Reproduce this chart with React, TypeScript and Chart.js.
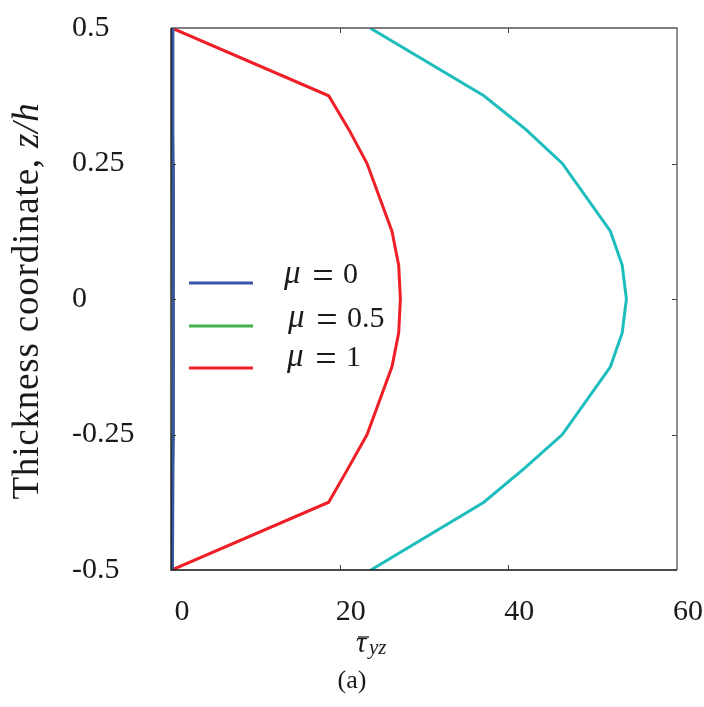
import React, { useEffect, useRef } from "react";
import { Chart, registerables } from "chart.js";

Chart.register(...registerables);

// Thickness coordinate z/h (vertical axis)
const zCoords = [0.5, 0.375, 0.3125, 0.25, 0.125, 0.0625, 0, -0.0625, -0.125, -0.25, -0.3125, -0.375, -0.5];
// Transverse shear stress values (horizontal axis)
const tauMu0 = [0.15, 0.2, 0.22, 0.25, 0.28, 0.3, 0.3, 0.3, 0.28, 0.25, 0.22, 0.2, 0.15];
const tauMu05 = [0.12, 0.18, 0.2, 0.22, 0.25, 0.27, 0.27, 0.27, 0.25, 0.22, 0.2, 0.18, 0.12];
const tauMu1 = [0.1, 18.7, 21.1, 23.25, 26.2, 27.0, 27.2, 27.0, 26.2, 23.25, 21.0, 18.7, 0.1];
const tauCyan = [23.6, 37.1, 42.1, 46.4, 52.1, 53.5, 54.0, 53.5, 52.1, 46.4, 41.9, 37.1, 23.7];

const muLabels = ["0", "0.5", "1"];
const xTickValues = [0, 20, 40, 60];
const yTickValues = [-0.5, -0.25, 0, 0.25, 0.5];

const FONT = "'Liberation Serif', 'Times New Roman', serif";
const BLUE = "#3a55a6";
const GREEN = "#41b24a";
const RED = "#ee1f26";
const CYAN = "#1ebdbd";

const toPts = (xs: number[]) => xs.map((x, i) => ({ x, y: zCoords[i] }));

const overlayPlugin = {
  id: "overlay",
  afterDraw(chart: any) {
    const ctx = chart.ctx;
    const { left, right, top, bottom } = chart.chartArea;
    const xs = chart.scales.x;
    const ys = chart.scales.y;
    ctx.save();

    // frame
    ctx.lineWidth = 1.3;
    ctx.strokeStyle = "#555";
    ctx.beginPath();
    ctx.moveTo(left, top);
    ctx.lineTo(right, top);
    ctx.lineTo(right, bottom);
    ctx.stroke();
    ctx.strokeStyle = "#111";
    ctx.beginPath();
    ctx.moveTo(left, top);
    ctx.lineTo(left, bottom);
    ctx.lineTo(right, bottom);
    ctx.stroke();

    // inward tick marks
    ctx.strokeStyle = "#444";
    ctx.lineWidth = 1;
    const tl = 5;
    xs.ticks.forEach((t: any) => {
      if (t.value === xs.min || t.value === xs.max) return;
      const px = Math.round(xs.getPixelForValue(t.value)) + 0.5;
      ctx.beginPath();
      ctx.moveTo(px, bottom);
      ctx.lineTo(px, bottom - tl);
      ctx.moveTo(px, top);
      ctx.lineTo(px, top + tl);
      ctx.stroke();
    });
    ys.ticks.forEach((t: any) => {
      if (t.value === ys.min || t.value === ys.max) return;
      const py = Math.round(ys.getPixelForValue(t.value)) + 0.5;
      ctx.beginPath();
      ctx.moveTo(left, py);
      ctx.lineTo(left + tl, py);
      ctx.moveTo(right, py);
      ctx.lineTo(right - tl, py);
      ctx.stroke();
    });

    // legend
    const legendLines = [283, 326, 368];
    const legendBase = [283, 327, 366];
    const muX = [284, 288, 287];
    let row = 0;
    chart.data.datasets.forEach((ds: any) => {
      if (!ds.label) return;
      const y = legendLines[row];
      const b = legendBase[row];
      const mx = muX[row];
      row++;
      ctx.strokeStyle = ds.borderColor;
      ctx.lineWidth = 3;
      ctx.beginPath();
      ctx.moveTo(189, y);
      ctx.lineTo(253, y);
      ctx.stroke();
      const parts = ds.label.split(" = ");
      ctx.fillStyle = "#1a1a1a";
      ctx.textBaseline = "alphabetic";
      ctx.textAlign = "left";
      ctx.font = "italic 33px " + FONT;
      ctx.fillText("\u03bc", mx, b);
      ctx.font = "38px " + FONT;
      ctx.textAlign = "center";
      ctx.fillText("=", mx + 39, b + 5);
      ctx.font = "30px " + FONT;
      ctx.textAlign = "left";
      ctx.fillText(parts[1], mx + 59, b);
    });

    // y-axis title
    ctx.save();
    ctx.translate(38, 301);
    ctx.rotate(-Math.PI / 2);
    ctx.fillStyle = "#1a1a1a";
    ctx.textBaseline = "alphabetic";
    ctx.textAlign = "left";
    try { (ctx as any).letterSpacing = "0.8px"; } catch (e) {}
    const normalPart = "Thickness coordinate, ";
    const italicPart = "z/h";
    ctx.font = "37px " + FONT;
    const w1 = ctx.measureText(normalPart).width;
    ctx.font = "italic 37px " + FONT;
    const w2 = ctx.measureText(italicPart).width;
    const start = -(w1 + w2) / 2;
    ctx.font = "37px " + FONT;
    ctx.fillText(normalPart, start, 0);
    ctx.font = "italic 37px " + FONT;
    ctx.fillText(italicPart, start + w1, 0);
    try { (ctx as any).letterSpacing = "0px"; } catch (e) {}
    ctx.restore();

    // x-axis title: tau-bar_yz
    ctx.fillStyle = "#1a1a1a";
    ctx.textAlign = "left";
    ctx.textBaseline = "alphabetic";
    ctx.font = "italic 29px " + FONT;
    ctx.fillText("\u03c4", 356, 652);
    ctx.strokeStyle = "#1a1a1a";
    ctx.lineWidth = 1.3;
    ctx.beginPath();
    ctx.moveTo(358, 637);
    ctx.lineTo(369, 637);
    ctx.stroke();
    ctx.font = "italic 21px " + FONT;
    ctx.fillText("yz", 369, 654);

    // caption
    ctx.font = "26px " + FONT;
    ctx.textAlign = "center";
    ctx.fillText("(a)", 352, 688);

    ctx.restore();
  },
};

export default function App() {
  const canvasRef = useRef<HTMLCanvasElement | null>(null);

  useEffect(() => {
    if (!canvasRef.current) return;
    const chart = new Chart(canvasRef.current, {
      type: "scatter",
      data: {
        datasets: [
          { label: "\u03bc = " + muLabels[0], data: toPts(tauMu0), borderColor: BLUE, backgroundColor: BLUE, order: 0 },
          { label: "\u03bc = " + muLabels[1], data: toPts(tauMu05), borderColor: GREEN, backgroundColor: GREEN, order: 1 },
          { label: "\u03bc = " + muLabels[2], data: toPts(tauMu1), borderColor: RED, backgroundColor: RED, order: 0 },
          { label: "", data: toPts(tauCyan), borderColor: CYAN, backgroundColor: CYAN, order: 0 },
        ].map((d) => ({ ...d, showLine: true, pointRadius: 0, borderWidth: 3, tension: 0 })),
      },
      options: {
        animation: false,
        responsive: false,
        layout: { padding: { left: 72, top: 28, right: 27, bottom: 0 } },
        plugins: { legend: { display: false }, tooltip: { enabled: false } },
        events: [],
        scales: {
          x: {
            type: "linear",
            min: 0,
            max: 60,
            afterBuildTicks: (scale: any) => {
              scale.ticks = xTickValues.map((v) => ({ value: v }));
            },
            afterFit: (scale: any) => {
              scale.height = 137;
              scale.paddingLeft = 0;
              scale.paddingRight = 0;
            },
            grid: { display: false, drawTicks: false },
            border: { display: false },
            ticks: {
              autoSkip: false,
              maxRotation: 0,
              padding: 24,
              labelOffset: 11,
              color: "#1a1a1a",
              font: { family: FONT, size: 30 },
              callback: (v: any) => String(v),
            },
          },
          y: {
            type: "linear",
            min: -0.5,
            max: 0.5,
            afterBuildTicks: (scale: any) => {
              scale.ticks = yTickValues.map((v) => ({ value: v }));
            },
            afterFit: (scale: any) => {
              scale.width = 99;
              scale.paddingTop = 0;
              scale.paddingBottom = 0;
            },
            grid: { display: false, drawTicks: false },
            border: { display: false },
            ticks: {
              autoSkip: false,
              crossAlign: "far",
              color: "#1a1a1a",
              font: { family: FONT, size: 30 },
              callback: (v: any) => String(v),
            },
          },
        },
      },
      plugins: [overlayPlugin],
    } as any);
    return () => chart.destroy();
  }, []);

  return (
    <div style={{ position: "absolute", left: 0, top: 0, width: 704, height: 707, background: "#fff" }}>
      <canvas ref={canvasRef} width={704} height={707} style={{ display: "block" }} />
    </div>
  );
}
